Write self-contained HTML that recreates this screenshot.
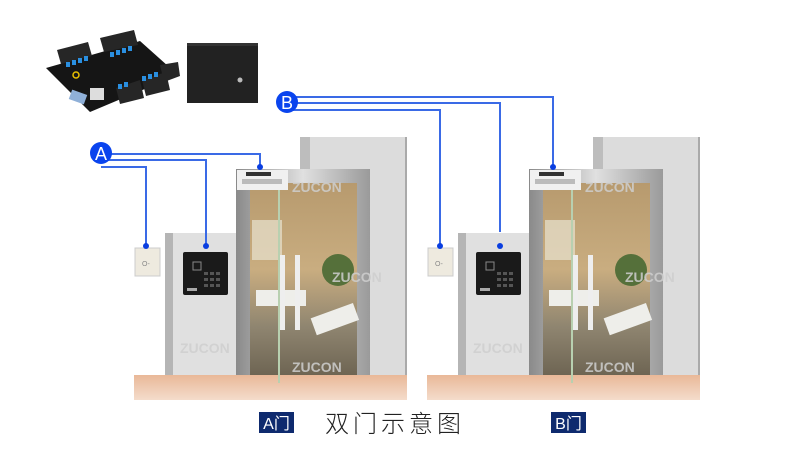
<!DOCTYPE html>
<html><head><meta charset="utf-8"><style>
html,body{margin:0;padding:0;background:#fff;width:790px;height:465px;overflow:hidden}
svg{display:block}
.zt{font-family:"Liberation Sans",sans-serif;font-weight:bold;fill:#cfcfcf;font-size:14px;opacity:0.85}
</style></head><body>
<svg width="790" height="465" viewBox="0 0 790 465" xmlns="http://www.w3.org/2000/svg">
<defs>
<linearGradient id="glass" x1="0" y1="0" x2="0" y2="1">
<stop offset="0" stop-color="#b79a6e"/><stop offset="0.45" stop-color="#c9ad80"/><stop offset="0.75" stop-color="#8f8570"/><stop offset="1" stop-color="#6e6553"/>
</linearGradient>
<linearGradient id="floor" x1="0" y1="0" x2="0" y2="1">
<stop offset="0" stop-color="#e9b898"/><stop offset="1" stop-color="#f4dccb"/>
</linearGradient>
<linearGradient id="frame" x1="0" y1="0" x2="1" y2="0">
<stop offset="0" stop-color="#8a8a8a"/><stop offset="0.5" stop-color="#e0e0e0"/><stop offset="1" stop-color="#9a9a9a"/>
</linearGradient>
</defs>
<!-- controller board -->
<polygon points="46,68 140,41 178,75 90,112" fill="#151515"/>
<polygon points="57,50 88,42 92,56 61,64" fill="#262626"/>
<polygon points="100,38 134,30 138,45 104,52" fill="#262626"/>
<polygon points="116,88 140,80 144,98 120,104" fill="#262626"/>
<polygon points="142,80 166,72 170,90 146,96" fill="#262626"/>
<polygon points="160,65 178,62 180,76 164,82" fill="#262626"/>
<g fill="#2a8fe0"><rect x="66" y="62" width="4" height="5"/><rect x="72" y="60" width="4" height="5"/><rect x="78" y="58" width="4" height="5"/><rect x="84" y="56" width="4" height="5"/><rect x="110" y="52" width="4" height="5"/><rect x="116" y="50" width="4" height="5"/><rect x="122" y="48" width="4" height="5"/><rect x="128" y="46" width="4" height="5"/><rect x="118" y="84" width="4" height="5"/><rect x="124" y="82" width="4" height="5"/><rect x="142" y="76" width="4" height="5"/><rect x="148" y="74" width="4" height="5"/><rect x="154" y="72" width="4" height="5"/></g>
<circle cx="76" cy="75" r="3" fill="none" stroke="#e8c000" stroke-width="1.5"/>
<rect x="90" y="88" width="14" height="12" fill="#ddd"/>
<rect x="70" y="92" width="16" height="10" fill="#8fb0d8" transform="rotate(20 78 97)"/>
<!-- black box -->
<rect x="187" y="43" width="71" height="60" fill="#222"/>
<rect x="187" y="43" width="71" height="3" fill="#333"/>
<circle cx="240" cy="80" r="2.5" fill="#bbb"/>

<!-- Scene A -->
<g>
<rect x="134" y="375" width="273" height="25" fill="url(#floor)"/>
<rect x="300" y="137" width="107" height="238" fill="#dcdcdc"/>
<rect x="300" y="137" width="10" height="238" fill="#bdbdbd"/>
<rect x="405" y="137" width="2" height="238" fill="#aaa"/>
<rect x="165" y="233" width="72" height="142" fill="#e0e0e0"/>
<rect x="165" y="233" width="8" height="142" fill="#b5b5b5"/>
<text class="zt" x="180" y="353">ZUCON</text>
<rect x="236" y="169" width="134" height="206" fill="url(#frame)"/>
<rect x="250" y="183" width="107" height="192" fill="url(#glass)"/>
<rect x="252" y="220" width="30" height="40" fill="#e8e2d0" opacity="0.7"/>
<rect x="256" y="290" width="50" height="16" fill="#eeeeea"/>
<rect x="312" y="310" width="45" height="18" fill="#eeeeea" transform="rotate(-20 335 318)"/>
<circle cx="338" cy="270" r="16" fill="#55703a"/>
<rect x="278" y="178" width="2" height="205" fill="#b8d0b0"/>
<rect x="280" y="255" width="5" height="75" fill="#eee"/>
<rect x="295" y="255" width="5" height="75" fill="#eee"/>
<rect x="237" y="170" width="51" height="20" fill="#f0f0f0"/>
<rect x="246" y="172" width="25" height="4" fill="#333"/>
<rect x="242" y="179" width="40" height="5" fill="#bbb"/>
<text class="zt" x="292" y="192">ZUCON</text>
<text class="zt" x="332" y="282">ZUCON</text>
<text class="zt" x="292" y="372">ZUCON</text>
<rect x="135" y="248" width="25" height="28" fill="#eeeadf" stroke="#ccc"/>
<text x="142" y="266" font-size="7" font-family="Liberation Sans,sans-serif" fill="#888">O-</text>
<rect x="183" y="252" width="45" height="43" rx="2" fill="#1a1a1a"/>
<rect x="193" y="262" width="8" height="8" fill="none" stroke="#888"/>
<g fill="#555"><rect x="204" y="272" width="4" height="3"/><rect x="210" y="272" width="4" height="3"/><rect x="216" y="272" width="4" height="3"/><rect x="204" y="278" width="4" height="3"/><rect x="210" y="278" width="4" height="3"/><rect x="216" y="278" width="4" height="3"/><rect x="204" y="284" width="4" height="3"/><rect x="210" y="284" width="4" height="3"/><rect x="216" y="284" width="4" height="3"/></g>
<rect x="187" y="288" width="10" height="3" fill="#aaa"/>
</g>

<!-- Scene B -->
<g transform="translate(293,0)">
<rect x="134" y="375" width="273" height="25" fill="url(#floor)"/>
<rect x="300" y="137" width="107" height="238" fill="#dcdcdc"/>
<rect x="300" y="137" width="10" height="238" fill="#bdbdbd"/>
<rect x="405" y="137" width="2" height="238" fill="#aaa"/>
<rect x="165" y="233" width="72" height="142" fill="#e0e0e0"/>
<rect x="165" y="233" width="8" height="142" fill="#b5b5b5"/>
<text class="zt" x="180" y="353">ZUCON</text>
<rect x="236" y="169" width="134" height="206" fill="url(#frame)"/>
<rect x="250" y="183" width="107" height="192" fill="url(#glass)"/>
<rect x="252" y="220" width="30" height="40" fill="#e8e2d0" opacity="0.7"/>
<rect x="256" y="290" width="50" height="16" fill="#eeeeea"/>
<rect x="312" y="310" width="45" height="18" fill="#eeeeea" transform="rotate(-20 335 318)"/>
<circle cx="338" cy="270" r="16" fill="#55703a"/>
<rect x="278" y="178" width="2" height="205" fill="#b8d0b0"/>
<rect x="280" y="255" width="5" height="75" fill="#eee"/>
<rect x="295" y="255" width="5" height="75" fill="#eee"/>
<rect x="237" y="170" width="51" height="20" fill="#f0f0f0"/>
<rect x="246" y="172" width="25" height="4" fill="#333"/>
<rect x="242" y="179" width="40" height="5" fill="#bbb"/>
<text class="zt" x="292" y="192">ZUCON</text>
<text class="zt" x="332" y="282">ZUCON</text>
<text class="zt" x="292" y="372">ZUCON</text>
<rect x="135" y="248" width="25" height="28" fill="#eeeadf" stroke="#ccc"/>
<text x="142" y="266" font-size="7" font-family="Liberation Sans,sans-serif" fill="#888">O-</text>
<rect x="183" y="252" width="45" height="43" rx="2" fill="#1a1a1a"/>
<rect x="193" y="262" width="8" height="8" fill="none" stroke="#888"/>
<g fill="#555"><rect x="204" y="272" width="4" height="3"/><rect x="210" y="272" width="4" height="3"/><rect x="216" y="272" width="4" height="3"/><rect x="204" y="278" width="4" height="3"/><rect x="210" y="278" width="4" height="3"/><rect x="216" y="278" width="4" height="3"/><rect x="204" y="284" width="4" height="3"/><rect x="210" y="284" width="4" height="3"/><rect x="216" y="284" width="4" height="3"/></g>
<rect x="187" y="288" width="10" height="3" fill="#aaa"/>
</g>

<!-- wires -->
<g fill="none" stroke="#3a6ae6" stroke-width="2">
<polyline points="101,154 260,154 260,166"/>
<polyline points="101,160 206,160 206,246"/>
<polyline points="101,167 146,167 146,246"/>
<polyline points="286,97 553,97 553,165"/>
<polyline points="286,103 500,103 500,232"/>
<polyline points="286,110 440,110 440,245"/>
</g>
<g fill="#0a3ee0">
<circle cx="260" cy="167" r="3"/><circle cx="206" cy="246" r="3"/><circle cx="146" cy="246" r="3"/>
<circle cx="553" cy="167" r="3"/><circle cx="500" cy="246" r="3"/><circle cx="440" cy="246" r="3"/>
</g>
<circle cx="101" cy="153" r="11" fill="#0a44ee"/>
<text x="101" y="160" text-anchor="middle" font-family="Liberation Sans,sans-serif" font-size="18" fill="#fff">A</text>
<circle cx="287" cy="102" r="11" fill="#0a44ee"/>
<text x="287" y="109" text-anchor="middle" font-family="Liberation Sans,sans-serif" font-size="18" fill="#fff">B</text>

<!-- labels -->
<rect x="259" y="412" width="35" height="21" fill="#0e2a6e"/>
<text x="276.5" y="429" text-anchor="middle" font-family="Liberation Sans,'Noto Sans CJK SC',sans-serif" font-size="16" fill="#fff">A门</text>
<rect x="551" y="412" width="35" height="21" fill="#0e2a6e"/>
<text x="568.5" y="429" text-anchor="middle" font-family="Liberation Sans,'Noto Sans CJK SC',sans-serif" font-size="16" fill="#fff">B门</text>
<text x="325" y="432" font-family="'Liberation Sans','Noto Sans CJK SC',sans-serif" font-size="24" font-weight="200" letter-spacing="4" fill="#222">双门示意图</text>
</svg>
</body></html>
